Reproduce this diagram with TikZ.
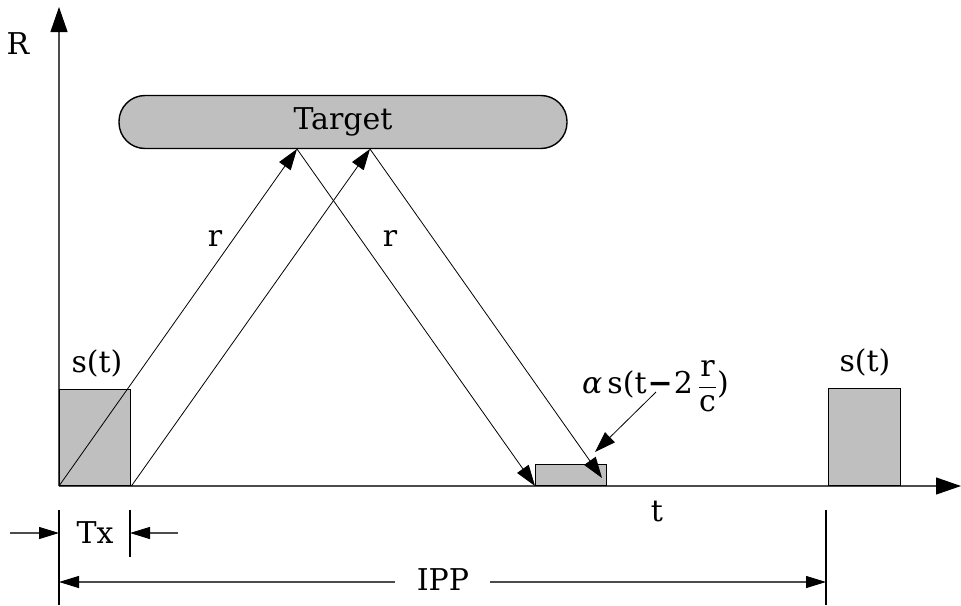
\documentclass[tikz,border=0pt]{standalone}
\usepackage{fontspec}
\setmainfont{DejaVu Serif}
\usetikzlibrary{arrows.meta}
\tikzset{
  lbl/.style={font=\fontsize{30}{34}\selectfont, inner sep=0pt},
  axis/.style={draw=black!70, line width=1.1pt, -{Triangle[length=25pt,width=17pt,color=black]}},
  ray/.style={draw=black, line width=0.8pt, -{Triangle[length=21pt,width=14pt]}},
  pulse/.style={draw=black, line width=1.4pt, fill=black!25, inner sep=0pt, anchor=south west},
  tick/.style={draw=black, line width=1.4pt},
  dim/.style={draw=black!70, line width=1.1pt, -{Triangle[length=20pt,width=12pt,color=black]}},
}
\newcommand{\fracstrut}{\rule[-4pt]{0pt}{26pt}}
\begin{document}
\begin{tikzpicture}[x=1pt,y=-1pt]
\useasboundingbox (0,0) rectangle (961,605);

% axes
\coordinate (o) at (59,486);
\coordinate (rtop) at (59,7);
\coordinate (tend) at (961,486);
\draw[axis] (o) -- (rtop);
\draw[axis] (o) -- (tend);
\node[lbl] (rlab) at (18,44) {R};
\node[lbl] (tlab) at (657,512) {t};

% target
\node[draw=black, line width=1.4pt, fill=black!25, rounded corners=26pt,
      minimum width=448pt, minimum height=53pt, inner sep=0pt, lbl] (tgt) at (343,122) {Target};
\coordinate (h1) at (297,149);
\coordinate (h2) at (370,149);

% transmitted pulses
\node[pulse, minimum width=71pt, minimum height=96pt] (p1) at (59,486) {};
\node[lbl] (s1) at (97,363) {s(t)};
\node[pulse, minimum width=72pt, minimum height=97pt] (p2) at (828,486) {};
\node[lbl] (s2) at (865,362) {s(t)};

% echo
\node[pulse, minimum width=71pt, minimum height=21pt] (echo) at (535,486) {};
\coordinate (e2) at (602,478);

% rays
\draw[ray] (p1.south west) -- (h1);
\draw[ray] (p1.south east) -- (h2);
\draw[ray] (h1) -- (echo.south west);
\draw[ray] (h2) -- (e2);
\node[lbl] (r1) at (215,238) {r};
\node[lbl] (r2) at (390,238) {r};

% echo label
\node[lbl, anchor=west] (elab) at (582,385)
  {{\itshape α}\,s(t\kern1pt\textbf{−}\kern1pt2\,$\displaystyle\frac{\fracstrut\mbox{r}}{\fracstrut\mbox{c}}$)};
\coordinate (ep) at (656,392);
\coordinate (eq) at (595,452);
\draw[ray] (ep) -- (eq);

% Tx dimension
\coordinate (tk1a) at (59,510);
\coordinate (tk1b) at (59,605);
\coordinate (tk2a) at (130,510);
\coordinate (tk2b) at (130,557);
\coordinate (tk3a) at (826,510);
\coordinate (tk3b) at (826,605);
\draw[tick] (tk1a) -- (tk1b);
\draw[tick] (tk2a) -- (tk2b);
\draw[tick] (tk3a) -- (tk3b);
\coordinate (txl) at (10,533);
\coordinate (txr) at (178,533);
\draw[dim] (txl) -- (tk1a |- txl);
\draw[dim] (txr) -- (tk2a |- txr);
\node[lbl] (tx) at (95,533) {Tx};

% IPP dimension
\node[lbl] (ipp) at (443,580) {IPP};
\coordinate (ippy) at (0,582);
\draw[dim] (395,582) -- (tk1a |- ippy);
\draw[dim] (490,582) -- (tk3a |- ippy);
\end{tikzpicture}
\end{document}
